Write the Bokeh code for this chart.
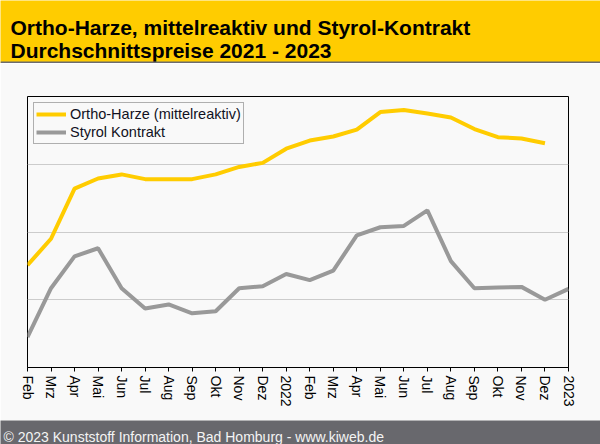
from bokeh.plotting import figure
from bokeh.models import Range1d, FixedTicker, Label, Span
from bokeh.layouts import column
from bokeh.embed import file_html
from bokeh.resources import INLINE

# ---- data ----
tick_labels = ["Feb", "Mrz", "Apr", "Mai", "Jun", "Jul", "Aug", "Sep", "Okt", "Nov", "Dez", "2022",
               "Feb", "Mrz", "Apr", "Mai", "Jun", "Jul", "Aug", "Sep", "Okt", "Nov", "Dez", "2023"]
ortho_harze = [151, 190, 264, 279, 285, 278, 278, 278, 285, 296, 302, 323,
               335, 341, 351, 377, 380, 375, 369, 352, 340, 338, 331]
styrol_kontrakt = [45, 117, 164, 176, 117, 87, 93, 80, 83, 117, 120, 138,
                   129, 143, 195, 207, 209, 232, 157, 117, 118, 119, 100, 116]
series_names = ["Ortho-Harze (mittelreaktiv)", "Styrol Kontrakt"]
title_lines = ["Ortho-Harze, mittelreaktiv und Styrol-Kontrakt", "Durchschnittspreise 2021 - 2023"]
footer_text = "\u00a9 2023 Kunststoff Information, Bad Homburg - www.kiweb.de"

FONT = "Liberation Sans"
W = 600
BG = "#f9f9f9"
YELLOW = "#ffcc00"
GRAY = "#999999"

# ---- header ----
HH = 63
head = figure(width=W, height=HH, x_range=Range1d(0, W), y_range=Range1d(HH, 0),
              x_axis_location=None, y_axis_location=None, toolbar_location=None,
              output_backend="svg", min_border=0, outline_line_color=None, frame_align=False,
              background_fill_color=YELLOW, border_fill_color=YELLOW)
head.grid.visible = False
for i, t in enumerate(title_lines):
    head.add_layout(Label(x=10, y=27 + 23 * i, text=t, text_font=FONT, text_font_size="21px",
                          text_font_style="bold", text_color="black", text_baseline="alphabetic"))
head.add_layout(Span(location=HH - 1, dimension="width", line_color="#6b6b70", line_width=2))

# ---- main chart ----
MH = 357
p = figure(width=W, height=MH, x_range=Range1d(0, len(tick_labels) - 1), y_range=Range1d(0, 400),
           toolbar_location=None, output_backend="svg", frame_align=False,
           min_border_left=27, min_border_right=32, min_border_top=33, min_border_bottom=53,
           background_fill_color=BG, border_fill_color=BG,
           outline_line_color="black", outline_line_width=1)

xs_o = list(range(len(ortho_harze)))
xs_s = list(range(len(styrol_kontrakt)))
p.line(xs_o, ortho_harze, line_color=YELLOW, line_width=4, legend_label=series_names[0])
p.line(xs_s, styrol_kontrakt, line_color=GRAY, line_width=4, legend_label=series_names[1])

p.xaxis.ticker = FixedTicker(ticks=list(range(len(tick_labels))))
p.xaxis.major_label_overrides = {i: t for i, t in enumerate(tick_labels)}
p.xaxis.major_label_orientation = "vertical"
p.xaxis.major_label_text_font = FONT
p.xaxis.major_label_text_font_size = "14px"
p.xaxis.major_label_text_color = "black"
p.xaxis.major_label_standoff = 4
p.xaxis.major_tick_in = 0
p.xaxis.major_tick_out = 4
p.xaxis.minor_tick_line_color = None
p.xaxis.axis_line_color = "black"
p.xaxis.major_tick_line_color = "black"
p.xgrid.visible = False

p.yaxis.ticker = FixedTicker(ticks=[100, 200, 300])
p.yaxis.visible = False
p.ygrid.ticker = FixedTicker(ticks=[100, 200, 300])
p.ygrid.grid_line_color = "#cccccc"
p.ygrid.grid_line_width = 1

lg = p.legend[0]
lg.location = "top_left"
lg.margin = 6
lg.padding = 2
lg.spacing = 0
lg.glyph_width = 30
lg.glyph_height = 18
lg.label_height = 18
lg.label_standoff = 4
lg.label_text_font = FONT
lg.label_text_font_size = "14.5px"
lg.label_text_color = "#111122"
lg.border_line_color = "#666666"
lg.border_line_width = 1
lg.background_fill_color = BG
lg.background_fill_alpha = 1.0

# ---- footer ----
FH = 24
foot = figure(width=W, height=FH, x_range=Range1d(0, W), y_range=Range1d(FH, 0),
              x_axis_location=None, y_axis_location=None, toolbar_location=None,
              output_backend="svg", min_border=0, outline_line_color=None, frame_align=False,
              background_fill_color="#68686d", border_fill_color="#68686d")
foot.grid.visible = False
foot.add_layout(Label(x=3, y=16, text=footer_text, text_font=FONT, text_font_size="14px",
                      text_color="#f4f4f4", text_baseline="alphabetic"))

layout = column(head, p, foot, spacing=0)
open("out.html", "w").write(file_html(layout, INLINE))
